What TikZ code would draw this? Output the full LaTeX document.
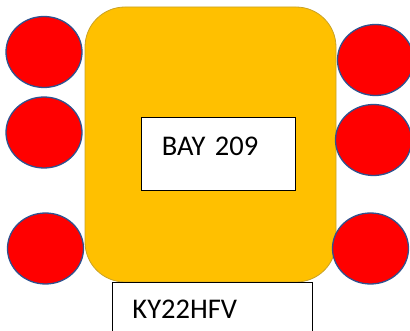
\documentclass[tikz,border=0pt]{standalone}
\usepackage{fontspec}
\setmainfont{Carlito}
\usepackage{tikz}
\usetikzlibrary{shapes.geometric}
\definecolor{wheelblue}{HTML}{2F528F}
\definecolor{bodygold}{HTML}{FFC000}
\definecolor{bodyedge}{HTML}{C9A227}
\tikzstyle{wheel} = [draw=wheelblue, fill=red, ellipse, line width=1.3pt, minimum width=76pt, minimum height=71pt, inner sep=0pt]
\tikzstyle{body} = [draw=bodyedge, fill=bodygold, rectangle, rounded corners=40pt, line width=0.8pt, minimum width=251pt, minimum height=275pt]
\tikzstyle{plate} = [draw, fill=white, rectangle, anchor=north west, line width=0.9pt, inner ysep=0pt, inner xsep=20pt, align=left, font=\fontsize{28.5}{34}\selectfont]

\begin{document}
\begin{tikzpicture}[x=1pt, y=-1pt]
    \useasboundingbox (0,0) rectangle (410,331);

    % Car body.
    \node (body) [body] at (210.5,144.5) {};

    % Wheels.
    \foreach \i/\x/\y in {1/44/52, 2/44/132.5, 3/45.5/248.5} {
        \node (left\i) [wheel] at (\x,\y) {};
    }
    \foreach \i/\x/\y in {1/375.5/60, 2/373.5/140, 3/370.5/248.5} {
        \node (right\i) [wheel] at (\x,\y) {};
    }

    % Plates.
    \node (bay) [plate, text width=113pt, text height=38pt, text depth=35pt, inner xsep=20.5pt] at (141,117) {BAY 209};
    \node (reg) [plate, text width=160pt, text height=36pt, text depth=30pt] at (112,282) {KY22HFV};
\end{tikzpicture}
\end{document}
